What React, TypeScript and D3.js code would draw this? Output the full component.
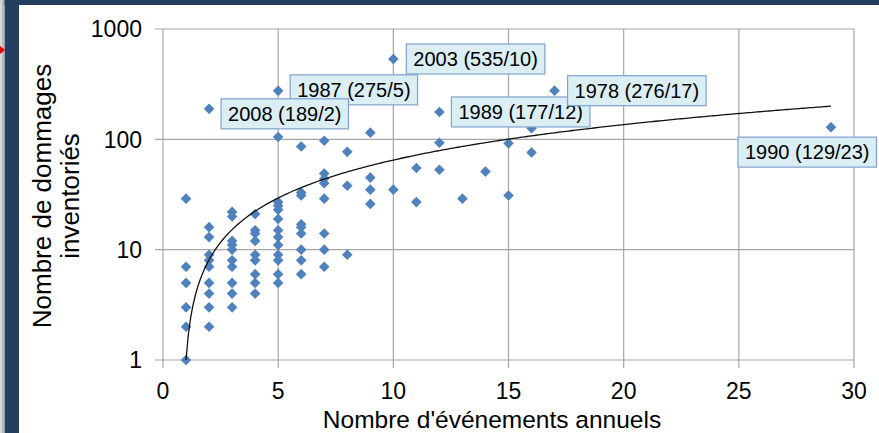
import React from "react";
import * as d3 from "d3";

// ---- data ----
const eventCounts: number[] = [
  1, 1, 1, 1, 1, 1,
  2, 2, 2, 2, 2, 2, 2, 2, 2, 2,
  3, 3, 3, 3, 3, 3, 3, 3, 3, 3,
  4, 4, 4, 4, 4, 4, 4, 4, 4,
  5, 5, 5, 5, 5, 5, 5, 5, 5, 5, 5, 5, 5,
  6, 6, 6, 6, 6, 6, 6, 6, 6,
  7, 7, 7, 7, 7, 7, 7, 7,
  8, 8, 8,
  9, 9, 9, 9,
  10, 10,
  11, 11,
  12, 12, 12,
  13, 14, 15, 15, 16, 16, 17, 29,
];
const damageCounts: number[] = [
  29, 7, 5, 3, 2, 1,
  189, 16, 13, 9, 8, 7, 5, 4, 3, 2,
  22, 20, 12, 11, 10, 8, 7, 5, 4, 3,
  21, 15, 14, 12, 9, 8, 6, 5, 4,
  275, 105, 27, 25, 23, 19, 15, 13, 11, 9, 8, 6, 5,
  86, 33, 31, 17, 16, 14, 10, 8, 6,
  97, 49, 44, 40, 29, 14, 10, 7,
  77, 38, 9,
  115, 45, 35, 26,
  535, 35,
  55, 27,
  177, 93, 53,
  29, 51, 92, 31, 126, 76, 276, 129,
];

const labelTexts: string[] = ["2003 (535/10)", "1987 (275/5)", "2008 (189/2)", "1989 (177/12)", "1978 (276/17)", "1990 (129/23)"];
const labelX: number[] = [10, 5, 2, 12, 17, 29];
const labelY: number[] = [535, 275, 189, 177, 276, 129];

const xTicks: number[] = [0, 5, 10, 15, 20, 25, 30];
const yTicks: number[] = [1, 10, 100, 1000];

const trendSlope = 7.1;
const trendIntercept = -6.1;
const trendXMin = 1;
const trendXMax = 29;

const xTitle = "Nombre d'événements annuels";
const yTitleLines = ["Nombre de dommages", "inventoriés"];

// ---- layout / style ----
const W = 879;
const H = 433;
const plot = { left: 163, right: 854, top: 29, bottom: 360 };
const FONT = "'Liberation Sans', Arial, sans-serif";
// label box offsets relative to its point: [dx of box left, dy of box centre]
const labelOffsets: [number, number][] = [
  [13, 0],
  [12, -1],
  [12, 5],
  [12, 0],
  [13, 0],
  [-93, 25],
];

export default function App() {
  const x = d3.scaleLinear().domain([0, 30]).range([plot.left, plot.right]);
  const y = d3.scaleLog().domain([1, 1000]).range([plot.bottom, plot.top]);

  const trendData = d3.range(trendXMin, trendXMax + 0.001, 0.1).map((v) => [v, trendSlope * v + trendIntercept] as [number, number]);
  const trendPath = d3
    .line<[number, number]>()
    .x((d) => x(d[0]))
    .y((d) => y(Math.max(1, d[1])))(trendData);

  const diamond = d3.symbol().type(d3.symbolDiamond2).size(72)();

  const labelFont = 20;
  const boxH = 30;
  const padX = 7;

  return (
    <svg width={W} height={H} style={{ position: "absolute", left: 0, top: 0, background: "#fff" }} fontFamily={FONT}>
      {/* frame */}
      <rect x={0} y={0} width={W} height={H} fill="#ffffff" />
      <rect x={0} y={0} width={4} height={H} fill="#d8d8d8" />
      <line x1={3} x2={3} y1={0} y2={H} stroke="#9a9a9a" strokeWidth={1} />
      <rect x={4.5} y={0} width={W - 4.5} height={5} fill="#243f60" />
      <rect x={4.5} y={0} width={14.5} height={H} fill="#243f60" />
      <path d="M0,46 L5,50 L0,54 Z" fill="#e00000" />

      {/* gridlines */}
      {yTicks.map((t) => (
        <line key={"gy" + t} x1={plot.left - 8} x2={plot.right} y1={y(t)} y2={y(t)} stroke="#a6a6a6" strokeWidth={1.2} />
      ))}
      {xTicks.map((t) => (
        <line key={"gx" + t} x1={x(t)} x2={x(t)} y1={plot.top} y2={plot.bottom + 8} stroke="#a6a6a6" strokeWidth={1.2} />
      ))}

      {/* tick labels */}
      {yTicks.map((t) => (
        <text key={"ty" + t} x={142} y={y(t)} dy="0.36em" textAnchor="end" fontSize={23} fill="#000">
          {t}
        </text>
      ))}
      {xTicks.map((t) => (
        <text key={"tx" + t} x={x(t)} y={391} dy="0.36em" textAnchor="middle" fontSize={23} fill="#000">
          {t}
        </text>
      ))}

      {/* titles */}
      <text x={492} y={419} dy="0.36em" textAnchor="middle" fontSize={24.5} fill="#000">
        {xTitle}
      </text>
      {yTitleLines.map((line, i) => (
        <text
          key={"yt" + i}
          transform={`translate(${42 + i * 28},196) rotate(-90)`}
          dy="0.36em"
          textAnchor="middle"
          fontSize={26}
          fill="#000"
        >
          {line}
        </text>
      ))}

      {/* points */}
      {eventCounts.map((ev, i) => (
        <path key={"p" + i} d={diamond || ""} transform={`translate(${x(ev)},${y(damageCounts[i])})`} fill="#4f81bd" />
      ))}

      {/* trend line */}
      <path d={trendPath || ""} fill="none" stroke="#111" strokeWidth={1.3} />

      {/* data labels */}
      {labelTexts.map((txt, i) => {
        const px = x(labelX[i]);
        const py = y(labelY[i]);
        const tw = measure(txt, labelFont);
        const bw = tw + padX * 2;
        const bx = px + labelOffsets[i][0];
        const by = py + labelOffsets[i][1] - boxH / 2;
        return (
          <g key={"l" + i}>
            <rect x={bx} y={by} width={bw} height={boxH} fill="#dbeef4" stroke="#7ea2cf" strokeWidth={1.2} />
            <text x={bx + padX} y={by + boxH / 2} dy="0.36em" fontSize={labelFont} fill="#000">
              {txt}
            </text>
          </g>
        );
      })}
    </svg>
  );
}

function measure(txt: string, size: number): number {
  const widths: Record<string, number> = { "(": 0.333, ")": 0.333, "/": 0.278, " ": 0.278 };
  let s = 0;
  for (const c of txt) s += widths[c] !== undefined ? widths[c] : 0.556;
  return s * size;
}
